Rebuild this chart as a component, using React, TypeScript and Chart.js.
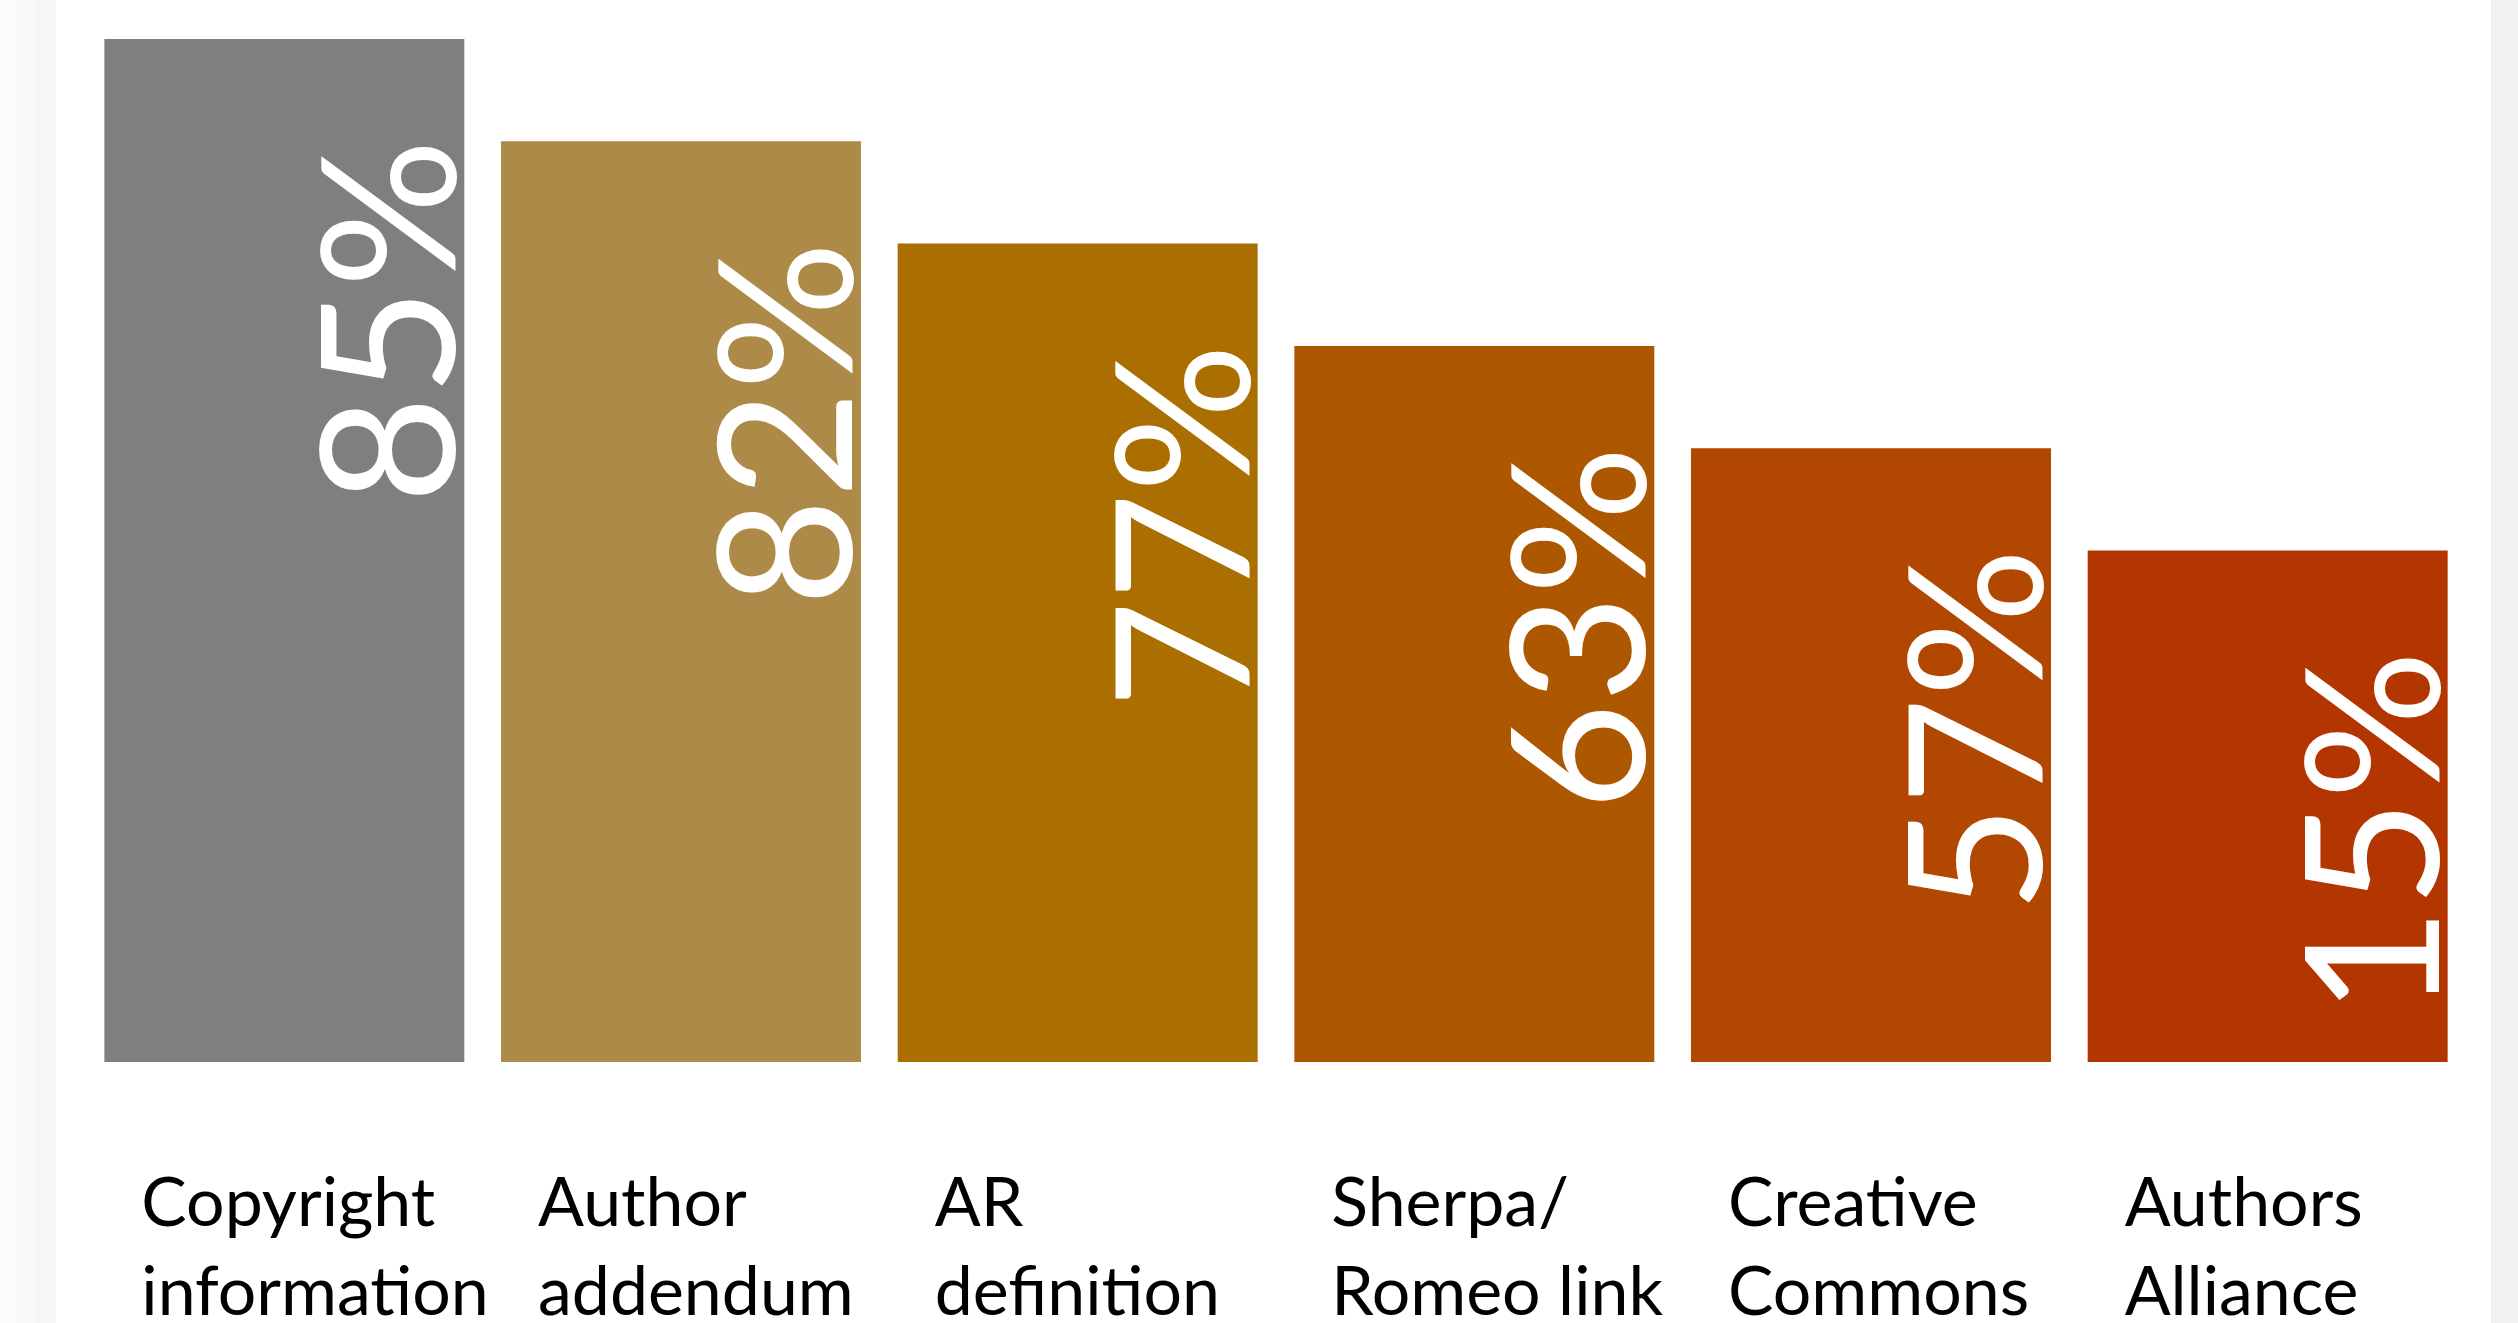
import React, { useEffect, useRef } from 'react';
import { Chart, registerables } from 'chart.js';

Chart.register(...registerables);

// ---- data ----
const categories: string[][] = [
  ['Copyright', 'information'],
  ['Author', 'addendum'],
  ['AR', 'definition'],
  ['Sherpa/', 'Romeo link'],
  ['Creative', 'Commons'],
  ['Authors', 'Alliance'],
];
// bars are drawn as an evenly stepped staircase (rank levels)
const barLevels: number[] = [10, 9, 8, 7, 6, 5];
const percentLabels: string[] = ['85%', '82%', '77%', '63%', '57%', '15%'];

// ---- styles ----
const barColors: string[] = ['#7f7f7f', '#ad8a47', '#aa6f00', '#ad5700', '#b14700', '#b33500'];
const FONT = 'Lato, "Open Sans", "Liberation Sans", sans-serif';

const valueLabelPlugin = {
  id: 'valueLabels',
  afterDatasetsDraw(chart: any) {
    const ctx = chart.ctx;
    const meta = chart.getDatasetMeta(0);
    ctx.save();
    ctx.fillStyle = '#ffffff';
    ctx.font = `186px ${FONT}`;
    ctx.textAlign = 'right';
    ctx.textBaseline = 'alphabetic';
    meta.data.forEach((bar: any, i: number) => {
      const { x, y, width } = bar.getProps(['x', 'y', 'width'], true);
      ctx.save();
      ctx.translate(x + width / 2 - 9, y + 100);
      ctx.rotate(-Math.PI / 2);
      ctx.fillText(percentLabels[i], 0, 0);
      ctx.restore();
    });
    ctx.restore();
  },
};

export default function App() {
  const canvasRef = useRef<HTMLCanvasElement | null>(null);

  useEffect(() => {
    if (!canvasRef.current) return;
    const chart = new Chart(canvasRef.current, {
      type: 'bar',
      data: {
        labels: categories,
        datasets: [
          {
            data: barLevels,
            backgroundColor: barColors,
            borderWidth: 0,
            barPercentage: 0.9075,
            categoryPercentage: 1,
          },
        ],
      },
      options: {
        animation: false,
        responsive: true,
        maintainAspectRatio: false,
        devicePixelRatio: 1,
        layout: { padding: { top: 39, left: 86, right: 52, bottom: 0 } },
        plugins: {
          legend: { display: false },
          tooltip: { enabled: false },
        },
        scales: {
          x: {
            grid: { display: false, drawTicks: false },
            border: { display: false },
            ticks: {
              color: '#000000',
              font: { family: FONT, size: 68, lineHeight: 1.3 },
              padding: 98,
              align: 'start',
              labelOffset: -143,
              maxRotation: 0,
              minRotation: 0,
              autoSkip: false,
            },
            afterFit: (scale: any) => {
              scale.height = 270;
              scale.paddingLeft = 0;
              scale.paddingRight = 0;
            },
          },
          y: { display: false, min: 0, max: 10 },
        },
      },
      plugins: [valueLabelPlugin],
    });
    return () => chart.destroy();
  }, []);

  return (
    <div
      style={{
        position: 'fixed',
        left: 0,
        top: 0,
        width: '2518px',
        height: '1323px',
        overflow: 'hidden',
        background:
          'linear-gradient(to right, #fbfbfb 0px, #fbfbfb 16px, #f9f9f9 16px, #f9f9f9 36px, #f6f6f6 36px, #f6f6f6 56px, #ffffff 56px, #ffffff 2491px, #f0f0f0 2491px, #f0f0f0 2498px, #f2f2f2 2498px)',
      }}
    >
      <div style={{ position: 'absolute', left: 0, top: 0, width: '2518px', height: '1332px' }}>
        <canvas ref={canvasRef} />
      </div>
    </div>
  );
}
